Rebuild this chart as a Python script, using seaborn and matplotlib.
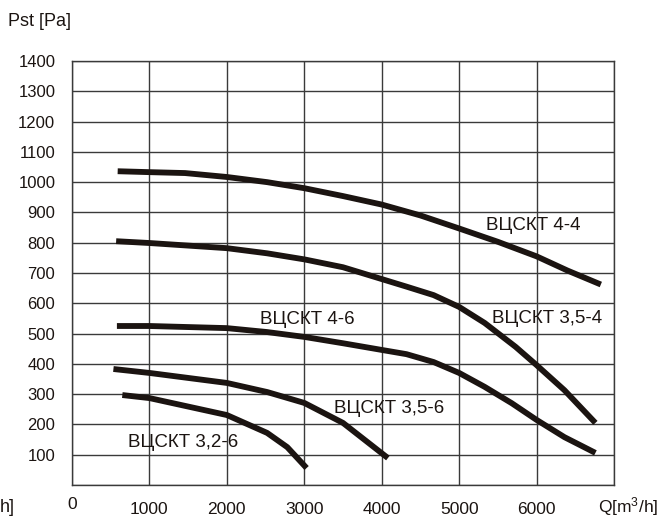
import pandas as pd
import matplotlib
matplotlib.use('Agg')
import matplotlib.pyplot as plt
import seaborn as sns

# Fan curves: Q [m3/h] vs Pst [Pa]
q_4_4 = [590, 1000, 1460, 2000, 2520, 3000, 3500, 4000, 4500, 5000, 5500, 6000, 6400, 6830]
p_4_4 = [1036, 1033, 1030, 1017, 1000, 980, 954, 926, 890, 847, 803, 755, 708, 662]

q_35_4 = [570, 1000, 2000, 2520, 3000, 3500, 4000, 4320, 4670, 5000, 5330, 5730, 6000, 6360, 6760]
p_35_4 = [805, 799, 782, 765, 745, 719, 680, 655, 627, 588, 535, 456, 396, 313, 205]

q_4_6 = [580, 1000, 2000, 2520, 3000, 3500, 4000, 4320, 4670, 5000, 5330, 5680, 6000, 6360, 6760]
p_4_6 = [525, 525, 518, 505, 489, 468, 446, 432, 406, 370, 324, 270, 215, 158, 106]

q_35_6 = [535, 1000, 2000, 2520, 3000, 3500, 3800, 4080]
p_35_6 = [383, 370, 337, 307, 271, 205, 145, 89]

q_32_6 = [650, 1000, 2000, 2520, 2780, 3030]
p_32_6 = [297, 287, 231, 172, 125, 56]

models = ['ВЦСКТ 4-4', 'ВЦСКТ 3,5-4', 'ВЦСКТ 4-6', 'ВЦСКТ 3,5-6', 'ВЦСКТ 3,2-6']
curves = [(q_4_4, p_4_4), (q_35_4, p_35_4), (q_4_6, p_4_6), (q_35_6, p_35_6), (q_32_6, p_32_6)]

# where each curve name is written (data coords, left edge)
label_x = [5350, 5430, 2430, 3380, 720]
label_y = [858, 551, 545, 254, 139]

x_ticks = [0, 1000, 2000, 3000, 4000, 5000, 6000, 7000]
x_labels = ['0', '1000', '2000', '3000', '4000', '5000', '6000', '']
y_ticks = list(range(0, 1500, 100))
y_labels = [''] + [str(v) for v in y_ticks[1:]]

rows = []
for name, (qs, ps) in zip(models, curves):
    for q, p in zip(qs, ps):
        rows.append({'model': name, 'Q': q, 'Pst': p})
df = pd.DataFrame(rows)

sns.set_style('white')
plt.rcParams['font.family'] = ['Liberation Sans', 'DejaVu Sans']
plt.rcParams['mathtext.default'] = 'regular'

fig = plt.figure(figsize=(6.63, 5.18), dpi=100)
ax = fig.add_axes([72 / 663, 33 / 518, 542 / 663, 424 / 518])

sns.lineplot(data=df, x='Q', y='Pst', hue='model', palette={m: '#1b1411' for m in models},
             linewidth=4.2, legend=False, estimator=None, sort=False, ax=ax,
             solid_capstyle='butt', solid_joinstyle='round')

for name, lx, ly in zip(models, label_x, label_y):
    ax.text(lx, ly, name, fontsize=13.5, ha='left', va='center', color='#1b1411')

ax.set_xlim(0, 7000)
ax.set_ylim(0, 1400)
ax.set_xticks(x_ticks)
ax.set_xticklabels(x_labels, fontsize=12.5)
ax.set_yticks(y_ticks)
ax.set_yticklabels(y_labels, fontsize=12)
ax.tick_params(axis='both', length=0, colors='#1b1411')
ax.tick_params(axis='x', pad=12)
ax.tick_params(axis='y', pad=12)
ax.grid(True, color='#3a3a3a', linewidth=1.0)
for s in ax.spines.values():
    s.set_visible(True)
    s.set_color('#3a3a3a')
    s.set_linewidth(1.0)
ax.set_xlabel('')
ax.set_ylabel('')

# the "0" label sits a little higher in the original
ax.get_xticklabels()[0].set_y(0.012)

fig.text(8 / 663, 1 - 22 / 518, 'Pst [Pa]', fontsize=13, ha='left', va='center', color='#1b1411')
fig.text(658 / 663, 1 - 507 / 518, 'Q[m$^3$/h]', fontsize=12.5, ha='right', va='center', color='#1b1411')
# leftover of a cut axis title at the left edge of the original
fig.text(0, 1 - 508 / 518, 'h]', fontsize=13, ha='left', va='center', color='#1b1411')

fig.savefig('out.png', dpi=100)
